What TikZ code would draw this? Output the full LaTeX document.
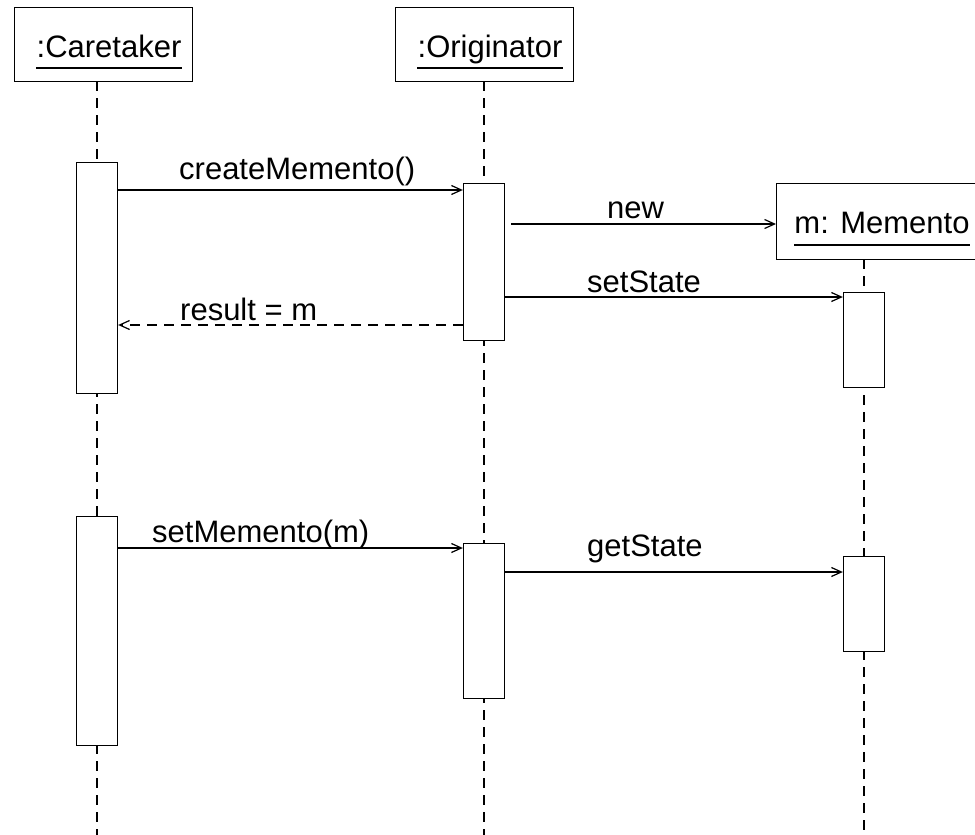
\documentclass[tikz,border=0pt]{standalone}
\usepackage{fontspec}
\setmainfont{Liberation Sans}
\usetikzlibrary{arrows.meta}
\begin{document}
\begin{tikzpicture}[x=1pt,y=-1pt,
  lw/.style={line width=1.3pt},
  head/.style={draw,lw,fill=white,inner sep=0pt,minimum height=74pt},
  act/.style={draw,lw,fill=white,minimum width=41pt,inner sep=0pt,anchor=north},
  life/.style={lw,dash pattern=on 10pt off 7pt},
  msg/.style={lw,-{Straight Barb[length=10pt,width=9pt,line width=1.2pt]}},
  ret/.style={msg,dash pattern=on 10pt off 7pt},
  lbl/.style={anchor=base west,inner sep=0pt,font=\fontsize{31}{36}\selectfont},
  htxt/.style={inner sep=0pt,font=\fontsize{31}{36}\selectfont,anchor=base}
]
\useasboundingbox (0,0) rectangle (975,835);
\clip (0,0) rectangle (975,835);
% headers
\node[head,minimum width=178pt,anchor=north west] (care) at (14,7) {};
\node[head,minimum width=178pt,anchor=north west] (orig) at (395,7) {};
\node[head,minimum width=215pt,anchor=north west,minimum height=76pt] (mem) at (776,183) {};
\node[htxt] (careT) at (109,57) {:Caretaker};
\node[htxt] (origT) at (490,57) {:Originator};
\node[htxt] (memT) at (882,233) {m: Memento};
\draw[lw] (careT.base west) ++(0,11) coordinate (cu1) -- (careT.base east |- cu1);
\draw[lw] (origT.base west) ++(0,11) coordinate (ou1) -- (origT.base east |- ou1);
\draw[lw] (memT.base west) ++(0,12) coordinate (mu1) -- (memT.base east |- mu1);
% lifelines
\coordinate (cl) at (97,835);
\coordinate (ol) at (484,835);
\coordinate (ml) at (864,835);
\draw[life] (97,81) -- (cl);
\draw[life] (484,81) -- (ol);
\draw[life] (864,259) -- (ml);
% activations
\node[act,minimum height=231pt] (ca1) at (97,162) {};
\node[act,minimum height=157pt] (oa1) at (484,183) {};
\node[act,minimum height=95pt] (ma1) at (864,292) {};
\node[act,minimum height=229pt] (ca2) at (97,516) {};
\node[act,minimum height=155pt] (oa2) at (484,543) {};
\node[act,minimum height=95pt] (ma2) at (864,556) {};
% messages
\coordinate (y1) at (0,190);
\coordinate (y2) at (0,224);
\coordinate (y3) at (0,297);
\coordinate (y4) at (0,325);
\coordinate (y5) at (0,548);
\coordinate (y6) at (0,572);
\draw[msg] (ca1.east |- y1) -- (oa1.west |- y1);
\draw[msg] ([xshift=6pt]oa1.east |- y2) -- (mem.west |- y2);
\draw[msg] (oa1.east |- y3) -- (ma1.west |- y3);
\draw[ret] (oa1.west |- y4) -- (ca1.east |- y4);
\draw[msg] (ca2.east |- y5) -- (oa2.west |- y5);
\draw[msg] (oa2.east |- y6) -- (ma2.west |- y6);
% labels
\node[lbl] (l1) at (179,179) {createMemento()};
\node[lbl] (l2) at (607,218) {new};
\node[lbl] (l3) at (587,292) {setState};
\node[lbl] (l4) at (180,320) {result = m};
\node[lbl] (l5) at (152,542) {setMemento(m)};
\node[lbl] (l6) at (587,556) {getState};
\end{tikzpicture}
\end{document}
